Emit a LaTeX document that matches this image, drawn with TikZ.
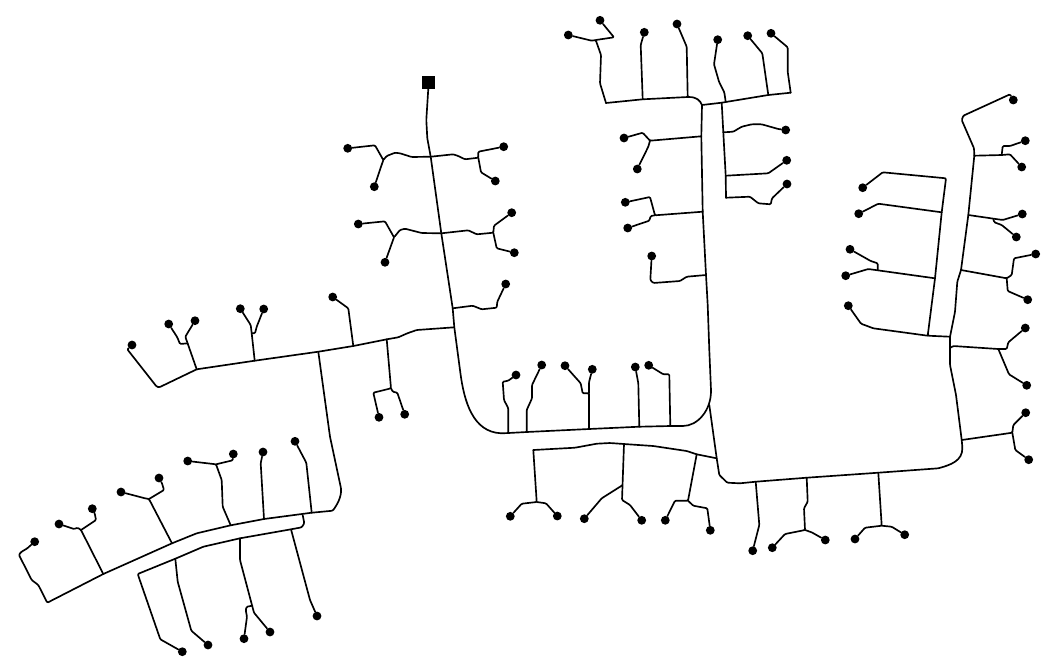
\documentclass[tikz,border=0pt]{standalone}
\tikzset{
  wire/.style={draw=black,line width=1.25pt,line join=round,line cap=round,rounded corners=0.8pt},
  dot/.style={circle,fill=black,inner sep=0pt,minimum size=6.6pt},
  source/.style={rectangle,fill=black,inner sep=0pt,minimum size=9.8pt}
}
\begin{document}
\begin{tikzpicture}[x=0.75pt,y=-0.75pt]
\useasboundingbox (0,0) rectangle (1056,662);
\node[source] (src) at (428.7,82.3) {};
% junctions
\foreach \n/\p in {
 a1/{103.3,574},a2/{172,543.3},a3/{230.7,525.3},a4/{264,519},a5/{311.7,512.7},a0/{47.3,602.7},
 b0/{137.7,574},b1/{175.3,558.7},b2/{240,538.3},b3/{291,529.3},
 c0/{196.7,369.3},c1/{254.7,360.7},c2/{318.3,351.7},c3/{353.3,346},c4/{386.7,339.3},
 m1/{430.7,156.7},m2/{441.3,233.3},m3/{452.7,308.3},m4/{454.3,327.3},
 n1/{508.3,433},n2/{526.7,432},n3/{589,429},n4/{639.3,426.7},n5/{670.3,426},J/{709.3,405},
 t1/{706,275},t2/{702.7,211.7},t3/{701.3,136.3},t4/{702,105},
 u1/{606,103},u2/{642.7,99.3},u3/{687.7,97},u4/{721.7,102.7},u5/{725.7,102},u6/{768.3,95},u7/{790.7,92.7},
 v1/{723.3,132.3},v2/{725.7,175.7},v3/{726,197.7},
 k1/{716.7,458.3},k2/{755.7,481.7},k3/{806.7,477.7},k4/{878.3,472.7},
 l1/{696.7,454.3},l2/{624,444},l3/{533.3,450},
 r1/{961.7,440},r2/{950,365},r3/{950,336.7},r4/{961,270},r5/{968.3,215},r6/{974.3,155.7},
 s1/{927.7,335.7},s2/{935,278.3},s3/{941.7,212.3}}
 {\coordinate (\n) at (\p);}
% end points
\foreach \n/\p in {
 d1/{34.7,541.7},d2/{59,524},d3/{92.3,508.7},d4/{121,492},d5/{159,478},d6/{187.7,461},d7/{233.3,454},d8/{263,452},d9/{295,441.3},
 d10/{208,645},d11/{182.3,651.7},d12/{270,632},d13/{244,638.7},d14/{317,616},
 d15/{132,345},d16/{195,320.7},d17/{168.7,324},d18/{240.3,308.7},d19/{263.7,309},d20/{332.7,297},
 d21/{347.7,148.3},d22/{374.3,186.7},d23/{503.7,146.7},d24/{495.3,181},d25/{358.3,224},d26/{385,262.3},d27/{511.7,212.7},d28/{514.3,252.7},d29/{505.7,284},
 d30/{379,417.3},d31/{404.7,414.3},
 d32/{568.3,35},d33/{600,20.3},d34/{644.3,32.3},d35/{677,24},d36/{717.7,39.7},d37/{747.7,35.7},d38/{771,33.3},
 d39/{785.7,130},d40/{786.7,160.3},d41/{787,184},d42/{624,138},d43/{637.3,169},d44/{625.3,202.3},d45/{627.7,228},d46/{651.7,256},
 d47/{516,375},d48/{541.7,365},d49/{565,365.7},d50/{592.3,369.3},d51/{635.3,367},d52/{648.7,365.3},
 d53/{510.3,516.3},d54/{557.3,516},d55/{584.3,518.7},d56/{641.7,520.3},d57/{665.3,520.3},d58/{710.3,530.3},
 d59/{752.7,550.7},d60/{772.3,547.7},d61/{825.3,540},d62/{855,539},d63/{904.7,534.7},
 d64/{1013.3,100},d65/{1021.7,167},d66/{1025.3,140.7},d67/{1022.3,214},d68/{1016.3,237},d69/{1035.7,254},d70/{1027.7,299.7},
 d71/{1025.3,328},d72/{1026.7,385.3},d73/{1025.7,412.7},d74/{1028.7,459.7},
 d75/{862.7,187.7},d76/{858.7,213.7},d77/{845.7,275.7},d78/{850,249.3},d79/{848.3,305.7}}
 {\node[dot] (\n) at (\p) {};}
% main feeder
\draw[wire] (src) -- (426.3,120) -- (427.3,138.3) -- (m1) -- (m2) -- (m3) -- (m4) -- (460,370) .. controls (464,402) and (473,432) .. (502,433.3) -- (n1) -- (n2) -- (n3) -- (n4) -- (n5) -- (681.7,426) .. controls (698,426) and (711,410) .. (711,390) -- (709.3,350) -- (707.7,305) -- (t1) -- (t2) -- (t3) -- (t4);
\draw[wire] (t4) .. controls (700,100.5) and (697,97) .. (u3) -- (u2) -- (u1);
\draw[wire] (t4) -- (u4) -- (u5) -- (u6) -- (u7);
\draw[wire] (u4) -- (v1) -- (v2) -- (v3);
\draw[wire] (J) -- (k1) -- (719.3,475) -- (727.3,482.7) -- (740,483.3) -- (k2) -- (k3) -- (k4) -- (938.3,468.3) .. controls (950,465) and (962.8,461) .. (962.3,446.7) -- (r1) -- (956,395) -- (r2) -- (r3) -- (955,311.7) -- (957.3,281.7) -- (r4) -- (r5) -- (r6) -- (974,148.3) -- (961.7,120) -- (963.3,115.7) -- (1010,94.3) -- (d64);
\draw[wire] (k1) -- (l1) -- (686.7,451) -- (653.3,446) -- (l2) -- (610,443) -- (596.7,443.7) -- (575,447.7) -- (l3);
\draw[wire] (r3) -- (s1) -- (s2) -- (s3) -- (946,178.3) -- (882.7,172.3) -- (d75);
% west trunk
\draw[wire] (m4) -- (416.7,330) -- (407.3,333.3) -- (398.3,337.3) -- (c4) -- (c3) -- (c2) -- (c1) -- (c0) -- (159.3,387.3) -- (156.7,386.7) -- (127.3,349.3) -- (d15);
\draw[wire] (c2) -- (330,436.7) -- (341,488.3) .. controls (341.5,497) and (337,505) .. (332.7,510.7) -- (a5) -- (a4) -- (a3) -- (196.7,533.3) -- (a2) -- (a1) -- (a0) -- (38.3,585) -- (31.7,580) -- (19,555) -- (20.7,552.3) -- (27.3,548.3) -- (d1);
\draw[wire] (302.7,515) -- (304.3,523.3) -- (301.7,527.3) -- (b3) -- (b2) -- (203.3,546.7) -- (b1) -- (b0) -- (160.3,639.3) -- (d11);
% southwest branches
\draw[wire] (a1) -- (81,530) -- (77.7,527.7) -- (74,529) -- (d2);
\draw[wire] (81,530) -- (96,520) -- (94.7,513.3) -- (d3);
\draw[wire] (a2) -- (149,499) -- (145,498.3) -- (d4);
\draw[wire] (149,499) -- (164,490) -- (162,483.3) -- (d5);
\draw[wire] (a3) -- (222.7,506.7) -- (221.7,480) -- (216,464.3) -- (d6);
\draw[wire] (216,464.3) -- (232.7,460.3) -- (d7);
\draw[wire] (a4) -- (260.7,463.3) -- (d8);
\draw[wire] (a5) -- (306.3,462.7) -- (d9);
\draw[wire] (b1) -- (177.7,581.7) -- (191.3,630.7) -- (d10);
\draw[wire] (b2) -- (240,560) -- (254,612.7) -- (d12);
\draw[wire] (252.3,605.7) -- (246.7,606.7) -- (245.7,610) -- (247,616.7) -- (d13);
\draw[wire] (b3) -- (310,600) -- (d14);
% west branches
\draw[wire] (c0) -- (185.3,336.7) -- (d16);
\draw[wire] (187.7,343.3) -- (180,344) -- (177.3,337.3) -- (d17);
\draw[wire] (c1) -- (251.7,333.3) -- (250.7,325) -- (d18);
\draw[wire] (251.7,333.3) -- (255,333.3) -- (256.7,326.7) -- (d19);
\draw[wire] (c3) -- (348.3,308.3) -- (d20);
\draw[wire] (c4) -- (391,388.3) -- (373.3,392.7) -- (d30);
\draw[wire] (391,388.3) -- (392.7,391.7) -- (397.3,392.7) -- (d31);
% branches off the main feeder
\draw[wire] (m1) -- (411.7,157) -- (400,153.3) -- (395,152.7) -- (386.7,156) -- (383.3,160) -- (375,145.3) -- (d21);
\draw[wire] (383.3,160) -- (d22);
\draw[wire] (m1) -- (453.3,154.3) -- (458.3,156) -- (465,159.3) -- (478.3,157.7) -- (478.3,151.7) -- (d23);
\draw[wire] (478.3,157.7) -- (481,172.3) -- (d24);
\draw[wire] (m2) -- (421.7,233) -- (405,228.7) -- (400,230) -- (394,237.3) -- (385,221.3) -- (d25);
\draw[wire] (394,237.3) -- (d26);
\draw[wire] (m2) -- (468.3,230.3) -- (476.7,234.3) -- (493.3,232.7) -- (494,225.7) -- (d27);
\draw[wire] (493.3,232.7) -- (496.7,248.3) -- (d28);
\draw[wire] (m3) -- (472.7,305.7) -- (481.7,309.3) -- (496.7,307.7) -- (497.3,301.7) -- (d29);
% north branches
\draw[wire] (u1) -- (600,83.3) -- (601,55) -- (595.7,40) -- (591.7,40.7) -- (d32);
\draw[wire] (595.7,40) -- (614,37.3) -- (d33);
\draw[wire] (u2) -- (640.7,45) -- (d34);
\draw[wire] (u3) -- (686.7,46.7) -- (d35);
\draw[wire] (u5) -- (724.3,92.3) -- (719,81.7) -- (714,64.3) -- (d36);
\draw[wire] (u6) -- (762.3,53.3) -- (d37);
\draw[wire] (u7) -- (787.7,71.7) -- (787.7,47.3) -- (d38);
\draw[wire] (v1) -- (733.3,131.7) -- (741.7,126.7) -- (751.7,124.3) -- (761.7,124.3) -- (778.3,129) -- (d39);
\draw[wire] (v2) -- (768.3,173.3) -- (d40);
\draw[wire] (v3) -- (750,196.7) -- (758.3,203.3) -- (770.7,204.3) -- (772,198.3) -- (d41);
\draw[wire] (t3) -- (650,140.7) -- (642.7,132.7) -- (d42);
\draw[wire] (650,140.7) -- (648.3,146.7) -- (d43);
\draw[wire] (t2) -- (655,215.3) -- (650,197) -- (d44);
\draw[wire] (655,215.3) -- (650.7,216) -- (649.3,220.7) -- (d45);
\draw[wire] (t1) -- (686.7,276.7) -- (680,281) -- (653.3,283) -- (650.3,280) -- (d46);
% centre branches
\draw[wire] (n1) -- (508.3,408.3) -- (504,400) -- (502.7,381.7) -- (508.3,380.7) -- (d47);
\draw[wire] (n2) -- (526.7,410) -- (532,398.3) -- (532,385) -- (d48);
\draw[wire] (n3) -- (589,393.3) -- (582.7,393.3) -- (580.7,383.3) -- (d49);
\draw[wire] (589,393.3) -- (589,382.3) -- (d50);
\draw[wire] (n4) -- (638.3,383.3) -- (d51);
\draw[wire] (n5) -- (669.3,374.3) -- (663.3,374.3) -- (d52);
\draw[wire] (l3) -- (536.7,502) -- (521.7,503.7) -- (d53);
\draw[wire] (536.7,502) -- (546,503.3) -- (d54);
\draw[wire] (l2) -- (622,500) -- (630,505) -- (d56);
\draw[wire] (622.3,485.3) -- (601.7,498.3) -- (d55);
\draw[wire] (l1) -- (688,500.7) -- (675,500.7) -- (d57);
\draw[wire] (688,500.7) -- (693.3,505.7) -- (707.3,508.3) -- (d58);
\draw[wire] (k2) -- (759.3,525) -- (d59);
\draw[wire] (k3) -- (807.7,501.7) -- (804,508.3) -- (805,530) -- (785,534) -- (d60);
\draw[wire] (805,530) -- (811.7,532.3) -- (d61);
\draw[wire] (k4) -- (881.7,525.7) -- (865,527.7) -- (d62);
\draw[wire] (881.7,525.7) -- (891.7,526.7) -- (d63);
% east branches
\draw[wire] (r6) -- (1001.7,155) -- (1010,154.3) -- (d65);
\draw[wire] (1001.7,155) -- (1002.7,146) -- (1010,146) -- (d66);
\draw[wire] (r5) -- (1002.7,220) -- (d67);
\draw[wire] (993.3,219) -- (994.3,222.3) -- (1001.7,225) -- (d68);
\draw[wire] (r4) -- (1006.7,278.3) -- (1011.7,275) -- (1014,258.3) -- (d69);
\draw[wire] (1006.7,278.3) -- (1007.7,291) -- (d70);
\draw[wire] (950,348) -- (953.3,346) -- (998.3,349) -- (1006.7,349) -- (1008.3,342.3) -- (d71);
\draw[wire] (998.3,349) -- (1009,374.3) -- (d72);
\draw[wire] (r1) -- (1012.3,432.7) -- (1013.3,425) -- (d73);
\draw[wire] (1012.3,432.7) -- (1015.3,450) -- (d74);
\draw[wire] (s3) -- (878.3,203.7) -- (d76);
\draw[wire] (s2) -- (868.3,269) -- (d77);
\draw[wire] (877.7,270) -- (877.7,263.3) -- (870.7,261) -- (d78);
\draw[wire] (s1) -- (873.3,328.3) -- (861,323.7) -- (d79);
\end{tikzpicture}
\end{document}
